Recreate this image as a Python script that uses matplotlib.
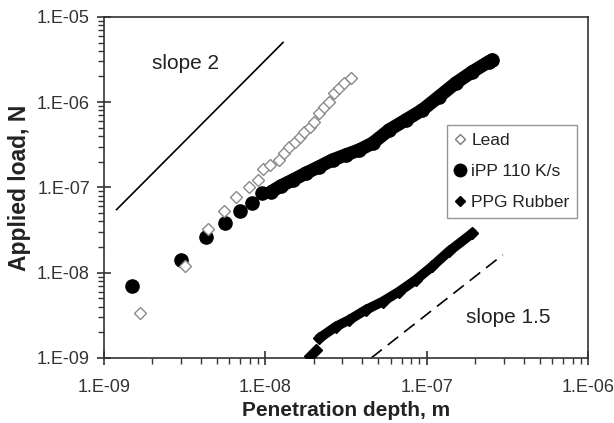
import numpy as np
import matplotlib
matplotlib.use("Agg")
import matplotlib.pyplot as plt
from matplotlib.ticker import LogLocator, FuncFormatter, NullFormatter

plt.rcParams['font.family'] = ['Liberation Sans', 'DejaVu Sans']

# ---------------- data ----------------
lead_x = [1.67e-9, 3.17e-9, 4.41e-9, 5.52e-9, 6.61e-9, 7.91e-9, 8.99e-9, 9.65e-9,
          1.07e-8, 1.21e-8, 1.31e-8, 1.41e-8, 1.52e-8, 1.63e-8, 1.75e-8, 1.88e-8,
          2.01e-8, 2.16e-8, 2.32e-8, 2.49e-8, 2.68e-8, 2.87e-8, 3.09e-8, 3.40e-8]
lead_y = [3.34e-9, 1.2e-8, 3.23e-8, 5.35e-8, 7.8e-8, 1.0e-7, 1.22e-7, 1.64e-7,
          1.84e-7, 2.10e-7, 2.52e-7, 2.96e-7, 3.44e-7, 3.88e-7, 4.51e-7, 5.17e-7,
          5.91e-7, 7.42e-7, 8.87e-7, 1.01e-6, 1.27e-6, 1.46e-6, 1.67e-6, 1.91e-6]

ipp_x = [1.50e-9, 3.02e-9, 4.31e-9, 5.65e-9, 7.0e-9, 8.3e-9, 9.5e-9, 1.09e-8,
         1.25e-8, 1.48e-8, 1.79e-8, 2.16e-8, 2.61e-8, 3.16e-8, 3.82e-8, 4.62e-8,
         5.86e-8, 7.43e-8, 9.4e-8, 1.19e-7, 1.51e-7, 1.92e-7, 2.43e-7, 2.55e-7]
ipp_y = [7.05e-9, 1.41e-8, 2.65e-8, 3.80e-8, 5.3e-8, 6.53e-8, 8.6e-8, 8.9e-8,
         1.04e-7, 1.22e-7, 1.47e-7, 1.75e-7, 2.10e-7, 2.41e-7, 2.75e-7, 3.30e-7,
         4.73e-7, 6.19e-7, 8.11e-7, 1.16e-6, 1.67e-6, 2.28e-6, 2.99e-6, 3.13e-6]

ppg_x = [1.88e-8, 2.06e-8, 2.16e-8, 2.74e-8, 3.31e-8, 4.2e-8, 5.33e-8, 6.75e-8,
         8.56e-8, 1.08e-7, 1.37e-7, 1.92e-7]
ppg_y = [1.04e-9, 1.24e-9, 1.70e-9, 2.33e-9, 2.79e-9, 3.66e-9, 4.57e-9, 6.0e-9,
         8.22e-9, 1.18e-8, 1.77e-8, 2.90e-8]

slope2_x = [1.19e-9, 1.30e-8]
slope2_y = [5.4e-8, 5.1e-6]
slope15_x = [4.54e-8, 2.96e-7]
slope15_y = [1.0e-9, 1.62e-8]

series_labels = ["Lead", "iPP 110 K/s", "PPG Rubber"]
x_ticks = [1e-9, 1e-8, 1e-7, 1e-6]
y_ticks = [1e-9, 1e-8, 1e-7, 1e-6, 1e-5]

IPP_DENSE_FROM = 7
PPG_DENSE_FROM = 2

# ---------------- figure ----------------
fig = plt.figure(figsize=(6.14, 4.23), dpi=100)
ax = fig.add_axes([0.169, 0.154, 0.789, 0.806])
ax.set_xscale('log')
ax.set_yscale('log')
ax.set_xlim(1e-9, 1e-6)
ax.set_ylim(1e-9, 1e-5)

# reference slope lines
ax.plot(slope2_x, slope2_y, color='black', lw=1.2, solid_capstyle='butt')
ax.plot(slope15_x, slope15_y, color='black', lw=1.2, linestyle=(0, (8, 4.5)))

# PPG Rubber
ax.plot(ppg_x[PPG_DENSE_FROM:], ppg_y[PPG_DENSE_FROM:], color='black', lw=7,
        solid_capstyle='round', zorder=3)
ax.plot(ppg_x, ppg_y, linestyle='none', marker='D', ms=5.8, color='black', zorder=3)

# iPP
ax.plot(ipp_x[IPP_DENSE_FROM:], ipp_y[IPP_DENSE_FROM:], color='black', lw=9.5,
        solid_capstyle='round', zorder=3)
ax.plot(ipp_x, ipp_y, linestyle='none', marker='o', ms=9.5, color='black', zorder=3)

# Lead
ax.plot(lead_x, lead_y, linestyle='none', marker='D', ms=6.3, mfc='white',
        mec='#8a8a8a', mew=1.0, zorder=4)

# legend handles
h1, = ax.plot([], [], linestyle='none', marker='D', ms=5.5, mfc='white', mec='#7a7a7a', mew=1.0)
h2, = ax.plot([], [], linestyle='none', marker='o', ms=9, color='black')
h3, = ax.plot([], [], linestyle='none', marker='D', ms=5.5, color='black')
leg = fig.legend([h1, h2, h3], series_labels, loc='upper left',
                 bbox_to_anchor=(0.728, 0.7045), fontsize=12.5, frameon=True,
                 fancybox=False, edgecolor='#7a7a7a', handlelength=0.6,
                 handletextpad=0.35, labelspacing=0.92, borderpad=0.45,
                 borderaxespad=0.0)
leg.get_frame().set_linewidth(1.0)
for t in leg.get_texts():
    t.set_color('#222222')

# annotations
ax.text(0.169, 0.862, "slope 2", transform=ax.transAxes, fontsize=15,
        ha='center', va='center', color='#222222')
ax.text(0.835, 0.117, "slope 1.5", transform=ax.transAxes, fontsize=15,
        ha='center', va='center', color='#222222')

# axes styling
for s in ax.spines.values():
    s.set_color('#333333')
    s.set_linewidth(1.2)

fmt = FuncFormatter(lambda v, p: "1.E{:03d}".format(int(round(np.log10(v)))))
ax.set_xticks(x_ticks)
ax.set_yticks(y_ticks)
ax.xaxis.set_major_formatter(fmt)
ax.yaxis.set_major_formatter(fmt)
ax.xaxis.set_minor_locator(LogLocator(base=10, subs=np.arange(2, 10), numticks=20))
ax.yaxis.set_minor_locator(LogLocator(base=10, subs=np.arange(2, 10), numticks=20))
ax.xaxis.set_minor_formatter(NullFormatter())
ax.yaxis.set_minor_formatter(NullFormatter())
ax.tick_params(which='major', direction='inout', length=10, width=1.2,
               color='#333333', labelsize=13, labelcolor='#333333')
ax.tick_params(axis='x', which='major', pad=10.5)
ax.tick_params(axis='y', which='major', pad=5)
ax.tick_params(which='minor', direction='out', length=4.5, width=1.0, color='#333333')
ax.tick_params(top=False, right=False, which='both')

ax.set_xlabel("Penetration depth, m", fontsize=15, fontweight='bold',
              color='#222222', labelpad=3)
ax.set_ylabel("Applied load, N", fontsize=16.5, fontweight='bold',
              color='#222222', labelpad=4)

fig.savefig("out.png", dpi=100)
